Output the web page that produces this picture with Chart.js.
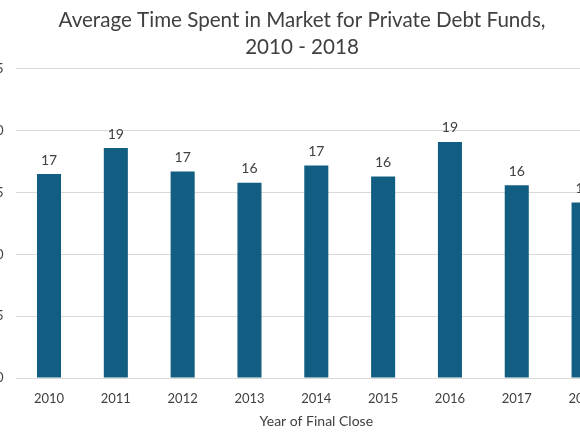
<!DOCTYPE html>
<html>
<head>
<meta charset="utf-8">
<script src="https://cdn.jsdelivr.net/npm/chart.js@4"></script>
<style>
  html, body { margin: 0; padding: 0; background: #fff; overflow: hidden; }
  body { width: 580px; height: 435px; position: relative; }
  /* the chart is wider than the window, its edges are cut like in the picture */
  #wrap { position: absolute; left: -26px; top: 0; width: 656px; height: 435px; }
</style>
</head>
<body>
<div id="wrap"><canvas id="chart"></canvas></div>
<script>
// Данные
const years = ['2010', '2011', '2012', '2013', '2014', '2015', '2016', '2017', '2018'];
const months = [16.5, 18.6, 16.7, 15.8, 17.2, 16.3, 19.1, 15.6, 14.2];
const yTicks = [0, 5, 10, 15, 20, 25];

const barColor = '#125E82';
const textColor = '#404040';

// подписи над столбцами
const valueLabels = {
  id: 'valueLabels',
  afterDatasetsDraw(chart) {
    const ctx = chart.ctx;
    const meta = chart.getDatasetMeta(0);
    ctx.save();
    ctx.font = '14px Lato';
    ctx.fillStyle = textColor;
    ctx.textAlign = 'center';
    ctx.textBaseline = 'middle';
    meta.data.forEach((bar, i) => {
      ctx.fillText(Math.round(months[i]).toString(), bar.x, bar.y - 14);
    });
    ctx.restore();
  }
};

new Chart(document.getElementById('chart'), {
  type: 'bar',
  data: {
    labels: years,
    datasets: [{
      label: 'Months',
      data: months,
      backgroundColor: barColor,
      borderWidth: 0,
      categoryPercentage: 1,
      barPercentage: 0.36
    }]
  },
  options: {
    responsive: true,
    maintainAspectRatio: false,
    animation: false,
    layout: { padding: { left: 13, right: 13, top: 0, bottom: 0 } },
    plugins: {
      legend: { display: false },
      tooltip: { enabled: false },
      title: {
        display: true,
        text: ['Average Time Spent in Market for Private Debt Funds,', '2010 - 2018'],
        color: textColor,
        font: { family: 'Lato', size: 20.6, weight: 'normal', lineHeight: 1.32 },
        padding: { top: 7, bottom: 7.6 }
      }
    },
    scales: {
      x: {
        afterFit: scale => { scale.height = 57; },
        grid: { display: false, drawTicks: false },
        border: { display: false },
        ticks: {
          color: textColor,
          font: { family: 'Lato', size: 13 },
          padding: 13
        },
        title: {
          display: true,
          text: 'Year of Final Close',
          color: textColor,
          font: { family: 'Lato', size: 14 },
          padding: { top: 4, bottom: 5 }
        }
      },
      y: {
        min: yTicks[0],
        max: yTicks[yTicks.length - 1],
        afterBuildTicks: scale => { scale.ticks = yTicks.map(v => ({ value: v })); },
        afterFit: scale => { scale.width = 28.6; },
        grid: { color: '#D9D9D9', lineWidth: 1, drawTicks: false },
        border: { display: false },
        ticks: {
          color: textColor,
          font: { family: 'Lato', size: 13 },
          padding: 12
        }
      }
    }
  },
  plugins: [valueLabels]
});
</script>
</body>
</html>
